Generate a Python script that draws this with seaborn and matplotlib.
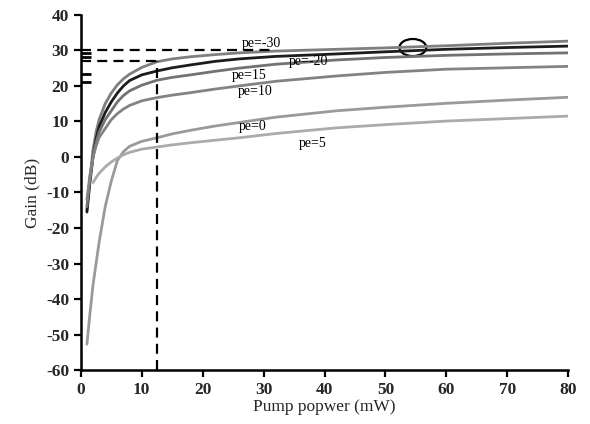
import numpy as np
import pandas as pd
import matplotlib
matplotlib.use("Agg")
import matplotlib.pyplot as plt
import seaborn as sns
from matplotlib.patches import Ellipse

# ---- data ----
pump_mw = [1, 1.5, 2, 2.5, 3, 4, 5, 6, 7, 8, 10, 12.5, 15, 18, 22, 26, 32, 42, 50, 60, 70, 80]
gain_pe_m30 = [-15, -6, 2, 7, 10.5, 15, 18, 20.3, 22, 23.3, 25.2, 26.8, 27.6, 28.2, 28.8, 29.3, 29.8, 30.3, 30.7, 31.3, 32.0, 32.6]
gain_pe_m20 = [-15.5, -7, 0, 5, 8.5, 12.5, 15.5, 18, 20, 21.5, 23.1, 24.2, 25.1, 25.9, 26.9, 27.6, 28.3, 29.0, 29.6, 30.3, 30.8, 31.2]
gain_pe_15 = [-14, -6, 0, 4, 7, 10.5, 13, 15.5, 17.3, 18.6, 20.2, 21.6, 22.4, 23.1, 24.1, 25.0, 26.1, 27.3, 28.0, 28.6, 29.0, 29.3]
gain_pe_10 = [-12, -5, 0, 3, 5.5, 8, 10.5, 12.2, 13.5, 14.5, 15.8, 16.7, 17.4, 18.1, 19.1, 20.0, 21.3, 22.8, 23.8, 24.7, 25.1, 25.5]
gain_pe_0 = [-52.7, -44, -36, -30, -24, -14, -6.8, -1, 1.5, 3, 4.4, 5.4, 6.5, 7.5, 8.7, 9.7, 11.2, 13.0, 14.0, 15.1, 16.0, 16.8]
gain_pe_5 = [np.nan, np.nan, -7.2, -5.8, -4.6, -2.8, -1.4, -0.3, 0.6, 1.3, 2.2, 2.8, 3.4, 4.0, 4.7, 5.4, 6.6, 8.2, 9.1, 10.1, 10.8, 11.5]

series_names = ["pe=-30", "pe=-20", "pe=15", "pe=10", "pe=0", "pe=5"]
series_values = [gain_pe_m30, gain_pe_m20, gain_pe_15, gain_pe_10, gain_pe_0, gain_pe_5]
series_colors = ["#7f7f7f", "#1c1c1c", "#727272", "#838383", "#9a9a9a", "#ababab"]
label_pos = [(29.7, 32.0), (37.3, 27.0), (27.7, 22.8), (28.6, 18.4), (28.2, 8.7), (38.0, 3.7)]

x_ticks = [0, 10, 20, 30, 40, 50, 60, 70, 80]
y_ticks = [-60, -50, -40, -30, -20, -10, 0, 10, 20, 30, 40]

ref_pump = 12.5
ref_gain_hi, ref_gain_hi_end = 30, 31
ref_gain_lo = 27
circle_center = (54.5, 30.8)
inner_marks = [29.4, 28.2, 23.3, 21.1]

rows = []
for name, vals in zip(series_names, series_values):
    for x, y in zip(pump_mw, vals):
        if not np.isnan(y):
            rows.append({"pump": x, "gain": y, "series": name})
df = pd.DataFrame(rows)

sns.set_style("ticks")
plt.rcParams["font.family"] = ["Liberation Serif", "DejaVu Serif"]
plt.rcParams["axes.unicode_minus"] = False

fig = plt.figure(figsize=(5.9, 4.24), dpi=100)
ax = fig.add_axes([0.137, 0.127, 0.826, 0.838])

sns.lineplot(data=df, x="pump", y="gain", hue="series", hue_order=series_names,
             palette=dict(zip(series_names, series_colors)), linewidth=2.0,
             legend=False, ax=ax, sort=False)

dash = (0, (4.5, 2.8))
ax.hlines(ref_gain_hi, 0, ref_gain_hi_end, colors="black", linestyles=[dash], linewidth=1.6)
ax.hlines(ref_gain_lo, 0, ref_pump, colors="black", linestyles=[dash], linewidth=1.6)
ax.vlines(ref_pump, -60, ref_gain_lo, colors="black", linestyles=[dash], linewidth=1.6)

ax.add_patch(Ellipse(circle_center, 4.4, 4.8, fill=False, edgecolor="black", linewidth=1.6))

for name, (lx, ly) in zip(series_names, label_pos):
    ax.text(lx, ly, name, ha="center", va="center", fontsize=10, color="black")

ax.set_xlim(0, 80)
ax.set_ylim(-60, 40)
ax.set_xticks(x_ticks)
ax.set_yticks(y_ticks)
ax.set_yticks(inner_marks, minor=True)
ax.tick_params(axis="y", which="minor", direction="in", length=7, width=2, color="black")
ax.tick_params(axis="both", which="major", direction="out", length=5, width=1.6,
               labelsize=12.5, color="black")
for lab in ax.get_xticklabels() + ax.get_yticklabels():
    lab.set_fontweight("bold")

sns.despine(ax=ax)
for s in ["left", "bottom"]:
    ax.spines[s].set_linewidth(1.8)
    ax.spines[s].set_color("black")

ax.set_xlabel("Pump popwer (mW)", fontsize=12.5, labelpad=1)
ax.set_ylabel("Gain (dB)", fontsize=12.5, labelpad=4)

fig.savefig("out.png", dpi=100)
